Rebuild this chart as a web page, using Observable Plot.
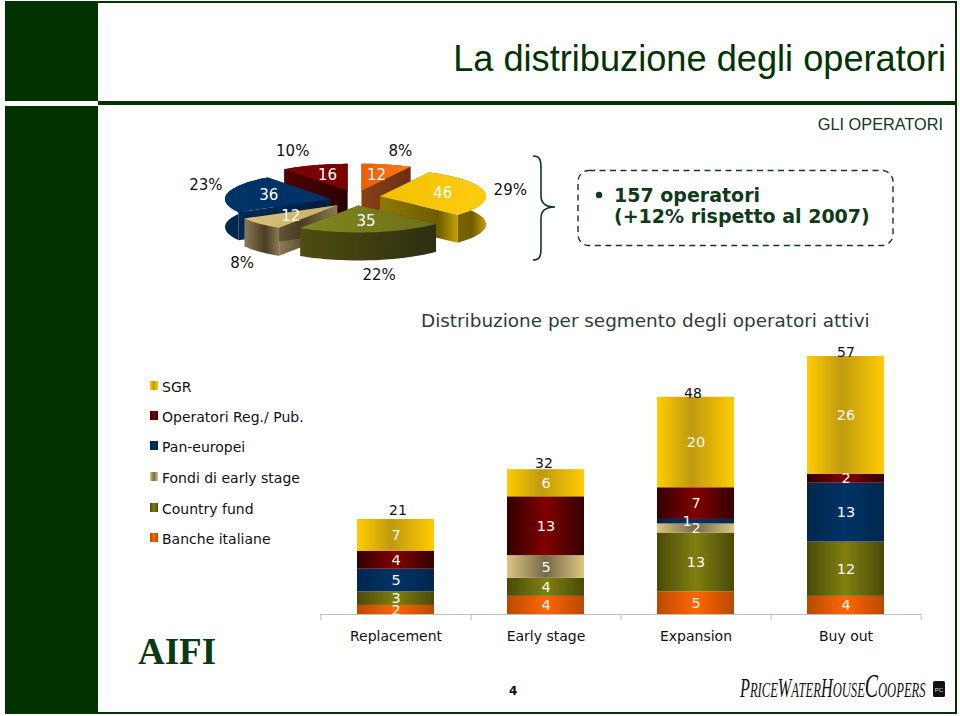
<!DOCTYPE html>
<html><head><meta charset="utf-8">
<script src="https://cdn.jsdelivr.net/npm/d3@7"></script>
<script src="https://cdn.jsdelivr.net/npm/@observablehq/plot@0.6"></script>
<style>
html,body{margin:0;padding:0;background:#fff;}
#page{position:relative;width:960px;height:716px;overflow:hidden;background:#fff;font-family:"DejaVu Sans",sans-serif;}
#page>*{position:absolute;}
.g{background:#003300;}
.t{white-space:nowrap;line-height:1;}
svg text{white-space:pre;}
</style></head><body>
<div id="page">
<div class="g" style="left:5px;top:1px;width:93px;height:100px"></div>
<div class="g" style="left:5px;top:106px;width:93px;height:608px"></div>
<div class="g" style="left:98px;top:1px;width:859px;height:2px"></div>
<div class="g" style="left:98px;top:101px;width:859px;height:4px"></div>
<div class="g" style="left:98px;top:712px;width:859px;height:2px"></div>
<div class="g" style="left:955px;top:1px;width:2px;height:713px"></div>
<div class="t" style="right:14px;top:38px;font:36.2px 'Liberation Sans';color:#003300">La distribuzione degli operatori</div>
<div class="t" style="right:17px;top:115px;font:16.3px 'Liberation Sans';color:#0f3a1a">GLI OPERATORI</div>
<div class="t" style="left:421px;top:310px;font:18.4px 'DejaVu Sans';color:#2a3f30">Distribuzione per segmento degli operatori attivi</div>
<div class="t" style="left:138px;top:630px;font:bold 37px 'Liberation Serif';color:#0a3a12">AIFI</div>
<div class="t" style="left:509px;top:684px;font:bold 12px 'DejaVu Sans';color:#111">4</div>
<svg width="960" height="716" style="left:0;top:0">
  <defs>
    <linearGradient id="b0"><stop offset="0" stop-color="#b84a00"/><stop offset=".5" stop-color="#ff6600"/><stop offset="1" stop-color="#b84a00"/></linearGradient>
    <linearGradient id="b1"><stop offset="0" stop-color="#4a4a08"/><stop offset=".5" stop-color="#808010"/><stop offset="1" stop-color="#4a4a08"/></linearGradient>
    <linearGradient id="b2"><stop offset="0" stop-color="#dcc680"/><stop offset=".5" stop-color="#76684a"/><stop offset="1" stop-color="#dcc680"/></linearGradient>
    <linearGradient id="b3"><stop offset="0" stop-color="#00264d"/><stop offset=".5" stop-color="#003366"/><stop offset="1" stop-color="#00264d"/></linearGradient>
    <linearGradient id="b4"><stop offset="0" stop-color="#330000"/><stop offset=".5" stop-color="#800000"/><stop offset="1" stop-color="#330000"/></linearGradient>
    <linearGradient id="b5"><stop offset="0" stop-color="#ffcc00"/><stop offset=".45" stop-color="#c09a10"/><stop offset="1" stop-color="#ffcc00"/></linearGradient>
    <linearGradient id="w0"><stop offset="0" stop-color="#8a4014"/><stop offset="1" stop-color="#6a3010"/></linearGradient>
    <linearGradient id="w1"><stop offset="0" stop-color="#4e4e10"/><stop offset="1" stop-color="#2e2e12"/></linearGradient>
    <linearGradient id="w2"><stop offset="0" stop-color="#8a7a58"/><stop offset=".6" stop-color="#4a3c22"/><stop offset="1" stop-color="#8a7a58"/></linearGradient>
    <linearGradient id="w3"><stop offset="0" stop-color="#002a55"/><stop offset="1" stop-color="#001c3a"/></linearGradient>
    <linearGradient id="w4"><stop offset="0" stop-color="#500000"/><stop offset="1" stop-color="#2c0000"/></linearGradient>
    <linearGradient id="w5"><stop offset="0" stop-color="#8f7800"/><stop offset=".75" stop-color="#6e5c00"/><stop offset="1" stop-color="#c8a000"/></linearGradient>
    <linearGradient id="f0"><stop offset="0" stop-color="#e85f0a"/><stop offset="1" stop-color="#ff7a1a"/></linearGradient>
    <linearGradient id="f1"><stop offset="0" stop-color="#808820"/><stop offset="1" stop-color="#6c7018"/></linearGradient>
    <linearGradient id="f2"><stop offset="0" stop-color="#d8c078"/><stop offset="1" stop-color="#c8b068"/></linearGradient>
    <linearGradient id="f3"><stop offset="0" stop-color="#003366"/><stop offset="1" stop-color="#003068"/></linearGradient>
    <linearGradient id="f4"><stop offset="0" stop-color="#7a0000"/><stop offset="1" stop-color="#7a0000"/></linearGradient>
    <linearGradient id="f5"><stop offset="0" stop-color="#f0c000"/><stop offset="1" stop-color="#ffcc10"/></linearGradient>
  </defs>
  <g fill="none" stroke="#0f3a1a" stroke-width="1.6">
    <path d="M533,156 C540,156 541,160 541,168 L541,196 C541,204 546,207 555,207 C546,207 541,210 541,218 L541,248 C541,256 540,260 533,260"/>
    <rect x="578" y="170.500" width="315" height="75" rx="11" stroke-dasharray="6 4.500" stroke-width="1.400"/>
  </g>
  <circle cx="599" cy="195" r="3.200" fill="#0f3a1a"/>
  <text x="614" y="202" font-family="DejaVu Sans" font-weight="bold" font-size="19" fill="#0f3a1a">157 operatori</text>
  <text x="614" y="223" font-family="DejaVu Sans" font-weight="bold" font-size="19" fill="#0f3a1a">(+12% rispetto al 2007)</text>
  <g transform="translate(740,697) scale(.6,1)" font-family="Liberation Serif" font-style="italic" fill="#111"><text font-size="21"><tspan font-size="27">P</tspan>RICE<tspan font-size="27">W</tspan>ATER<tspan font-size="27">H</tspan>OUSE<tspan font-size="33">C</tspan>OOPERS</text></g>
  <rect x="933" y="681" width="12" height="16" rx="1.500" fill="#111"/>
  <text x="939" y="692" text-anchor="middle" font-family="Liberation Sans" font-size="6" fill="#ddd">PC</text>
</svg>
<div id="legend" style="left:0;top:0"></div>
<div id="pie" style="left:0;top:0"></div>
<div id="bars" style="left:0;top:0"></div>
</div>
<script>
// bars, bottom to top
const stages = ["Replacement", "Early stage", "Expansion", "Buy out"];
const seriesNames = ["Banche italiane", "Country fund", "Fondi di early stage", "Pan-europei", "Operatori Reg./ Pub.", "SGR"];
const banche = [2, 4, 5, 4];
const country = [3, 4, 13, 12];
const fondi = [0, 5, 2, 0];
const pan = [5, 0, 1, 13];
const operatori = [4, 13, 7, 2];
const sgr = [7, 6, 20, 26];
const totals = [21, 32, 48, 57];
const totalNudge = [[2, -9], [-2, -6], [-3, -4], [0, -4]];
const seriesValues = [banche, country, fondi, pan, operatori, sgr];

// pie, clockwise from the top
const pieOrder = [0, 5, 1, 2, 3, 4];          // index into seriesNames
const pieCounts = [12, 46, 35, 12, 36, 16];
const piePercents = ["8%", "29%", "22%", "8%", "23%", "10%"];
const pctNudge = [[8, 0], [2, 1], [5, 30], [0, 33], [2, -2], [-14, -1]];
const pieDrop = [0, 0, 1, 3, 3, 0];
const paintOrder = [5, 0, 4, 3, 1, 2];        // slices, back to front

// legend, top to bottom
const legendRows = [5, 4, 3, 2, 1, 0];
const legendTops = [386, 416, 446, 477, 508, 538];
const font = "DejaVu Sans";

const rows = stages.flatMap((stage, i) =>
  seriesNames.map((series, s) => ({stage, series, value: seriesValues[s][i]})).filter(d => d.value > 0));
const totalRows = stages.map((stage, i) => ({stage, total: totals[i], nudge: totalNudge[i]}));
const stackOpts = {x: "stage", y: "value", z: "series", order: seriesNames};
const isOne = d => d.value === 1;
const notOne = d => d.value !== 1;
const labelStyle = {text: "value", fill: "#fbfbf2", fontSize: 14.5, fontFamily: font};

document.getElementById("bars").append(Plot.plot({
  width: 960, height: 716,
  marginLeft: 320, marginRight: 39, marginTop: 356, marginBottom: 102,
  style: {background: "transparent", overflow: "visible"},
  x: {domain: stages, paddingInner: 0.49, paddingOuter: 0.245},
  y: {domain: [0, 57], axis: null},
  color: {domain: seriesNames, range: seriesNames.map((_, i) => `url(#b${i})`)},
  marks: [
    Plot.barY(rows, {...stackOpts, fill: "series"}),
    Plot.ruleY([0], {stroke: "#c0c0c0", strokeWidth: 1.2}),
    Plot.ruleX(stages, {x: d => d, dx: 75.1, y1: 0, y2: -1.4, stroke: "#c0c0c0"}),
    Plot.ruleX(stages.slice(0, 1), {x: d => d, dx: -75.1, y1: 0, y2: -1.4, stroke: "#c0c0c0"}),
    Plot.axisX({tickSize: 0, tickPadding: 17, fontSize: 14, fontFamily: font, label: null, color: "#111"}),
    Plot.text(rows, Plot.filter(notOne, Plot.stackY({...stackOpts, ...labelStyle}))),
    Plot.text(rows, Plot.filter(isOne, Plot.stackY({...stackOpts, ...labelStyle, dx: -9}))),
    ...totalRows.map(r => Plot.text([r], {x: "stage", y: "total", text: "total", dx: r.nudge[0], dy: r.nudge[1], fill: "#111", fontSize: 14, fontFamily: font}))
  ]
}));

// 3D pie
const cx = 355, cy = 197, rx = 106, ry = 27, depth = 28, ex = 25, ey = 7;
const sum = d3.sum(pieCounts);
let acc = 0;
const slices = pieCounts.map((n, i) => {
  const a0 = acc / sum * 2 * Math.PI; acc += n;
  const a1 = acc / sum * 2 * Math.PI;
  const mid = (a0 + a1) / 2;
  const ax = cx + ex * Math.sin(mid), ay = cy - ey * Math.cos(mid) + pieDrop[i];
  const arc = d3.range(41).map(k => {
    const t = a0 + (a1 - a0) * k / 40;
    return [ax + rx * Math.sin(t), ay - ry * Math.cos(t)];
  });
  return {i, n, mid, ax, ay, arc, s: pieOrder[i]};
});
const pts = [];
const poly = (part, paint, p) => p.forEach(([x, y]) => pts.push({part, paint, x, y}));
paintOrder.forEach(k => {
  const sl = slices[k], {arc, ax, ay} = sl, first = arc[0], last = arc[arc.length - 1];
  const down = ([x, y]) => [x, y + depth];
  const wall = `url(#w${sl.s})`;
  poly(`${k}a`, wall, [[ax, ay], first, down(first), [ax, ay + depth]]);
  poly(`${k}b`, wall, [[ax, ay], last, down(last), [ax, ay + depth]]);
  poly(`${k}c`, wall, [...arc, ...arc.map(down).reverse()]);
  poly(`${k}d`, `url(#f${sl.s})`, [[ax, ay], ...arc]);
});
const inner = slices.map(s => ({
  x: s.ax + 0.6 * rx * Math.sin(s.mid), y: s.ay - 0.6 * ry * Math.cos(s.mid), text: s.n}));
const outer = slices.map((s, i) => ({
  x: cx + 155 * Math.sin(s.mid) + pctNudge[i][0], y: cy - 48 * Math.cos(s.mid) + pctNudge[i][1], text: piePercents[i]}));

document.getElementById("pie").append(Plot.plot({
  width: 960, height: 716, margin: 0,
  style: {background: "transparent"},
  x: {domain: [0, 960], axis: null},
  y: {domain: [0, 716], range: [0, 716], axis: null},
  color: {type: "identity"},
  marks: [
    Plot.line(pts, {x: "x", y: "y", z: "part", fill: "paint", stroke: "none"}),
    Plot.text(inner, {x: "x", y: "y", text: "text", fill: "#fff", fontSize: 15, fontFamily: font}),
    Plot.text(outer, {x: "x", y: "y", text: "text", fill: "#111", fontSize: 15, fontFamily: font})
  ]
}));

// legend
const leg = document.getElementById("legend");
legendRows.forEach((s, i) => {
  const sw = document.createElement("div");
  sw.style.cssText = `position:absolute;left:150px;top:${legendTops[i] - 5}px;width:8px;height:9px`;
  sw.innerHTML = `<svg width="8" height="9" style="display:block"><rect width="8" height="9" fill="url(#b${s})"/></svg>`;
  leg.append(sw);
  const tx = document.createElement("div");
  tx.className = "t";
  tx.textContent = seriesNames[s];
  tx.style.cssText = `position:absolute;left:162px;top:${legendTops[i] - 7}px;font:14px "DejaVu Sans";color:#111;white-space:nowrap`;
  leg.append(tx);
});
</script>
</body></html>
